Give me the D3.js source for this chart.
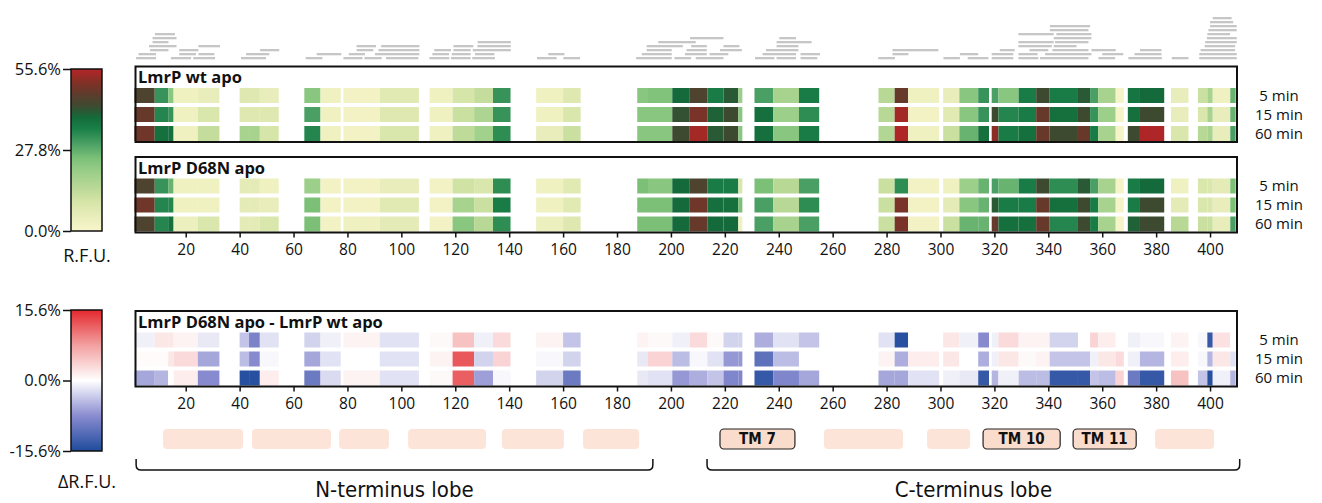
<!DOCTYPE html>
<html>
<head>
<meta charset="utf-8">
<script src="https://cdn.jsdelivr.net/npm/d3@7.9.0/dist/d3.min.js"></script>
<style>
  body { margin: 0; background: #fff; }
  text { font-family: "Open Sans", "Noto Sans", sans-serif; fill: #111; }
  .narrow { font-family: "Liberation Sans Narrow", "DejaVu Sans Condensed", "Open Sans", sans-serif; }
</style>
</head>
<body>
<svg id="chart" width="1322" height="503"></svg>
<script>
// ---- data ----
// residue segments (shared by all heatmap rows)
const segStart = [1, 8.5, 13.5, 15.5, 24.5, 40, 43.5, 47.5, 64, 70, 78.5, 92, 110.5, 119, 127, 134, 150, 160,
  187.5, 191.5, 200.5, 207, 213.5, 219.5, 225, 231, 238, 247.5, 277, 283, 288, 301, 307, 314,
  319, 321.5, 329, 335.5, 340.5, 351, 355.5, 358.5, 365, 369.5, 374, 385.5, 395.5, 399, 401, 407.5];
const segEnd = [8.5, 13.5, 15.5, 24.5, 32.5, 43.5, 47.5, 54.5, 70, 77.5, 92, 106.5, 119, 127, 134, 140.5, 160, 166.5,
  191.5, 200.5, 207, 213.5, 219.5, 225, 226.5, 238, 247.5, 255, 283, 288, 299.5, 307, 314, 318,
  321.5, 329, 335.5, 340.5, 351, 355.5, 358.5, 365, 368, 374, 383, 392, 399, 401, 407.5, 409.5];

// relative fractional uptake (%) - LmrP wt apo
const wt5 = [45, 32, 23, 3, 5, 8, 8, 5, 23, 3, 2, 7, 3, 10, 13, 32, 3, 8, 23, 24, 39, 45, 36, 41, 20, 30, 18, 36,
  15, 48, 3, 5, 23, 32, 30, 23, 36, 43, 36, 41, 30, 18, 1, 37, 39, 5, 12, 18, 3, 27];
const wt15 = [48, 34, 32, 3, 9, 8, 8, 8, 30, 3, 2, 8, 3, 12, 17, 32, 3, 9, 23, 23, 42, 50, 40, 43, 23, 38, 20, 33,
  15, 54, 2, 7, 23, 32, 43, 34, 36, 48, 38, 43, 32, 20, 1, 38, 43, 5, 9, 18, 5, 27];
const wt60 = [49, 38, 38, 3, 13, 18, 18, 10, 34, 3, 2, 9, 3, 14, 19, 33, 5, 12, 23, 23, 43, 54, 41, 43, 23, 38, 23, 36,
  16, 55, 3, 12, 27, 38, 52, 36, 38, 48, 43, 48, 36, 18, 1, 43, 55, 9, 15, 18, 5, 30];

// LmrP D68N apo
const mut5 = [45, 32, 27, 3, 3, 6, 6, 3, 20, 2, 2, 5, 2, 11, 9, 33, 3, 7, 25, 23, 39, 45, 36, 36, 9, 25, 15, 30,
  12, 33, 2, 3, 20, 27, 30, 27, 36, 43, 33, 41, 30, 18, 1, 36, 39, 3, 9, 9, 6, 25];
const mut15 = [49, 34, 34, 3, 3, 6, 6, 5, 25, 2, 2, 7, 2, 18, 12, 36, 3, 7, 25, 25, 39, 49, 38, 38, 25, 30, 15, 33,
  12, 50, 2, 6, 23, 27, 41, 36, 36, 48, 38, 43, 36, 18, 1, 36, 43, 6, 9, 9, 5, 25];
const mut60 = [45, 34, 38, 4, 9, 6, 6, 9, 25, 2, 3, 6, 2, 23, 15, 33, 4, 8, 25, 25, 39, 48, 39, 39, 3, 30, 18, 30,
  12, 50, 2, 12, 27, 27, 48, 38, 38, 48, 34, 43, 36, 18, 1, 40, 43, 15, 12, 12, 5, 30];

// difference D68N - wt (%)
const diff5 = [-1, 2, 2, 1, -1.5, -4, -9, -2, -3, -1, 1, -2, 0.5, 5, -1, 3, 1, -4, 1, 0.5, -1, 3, 0.5, -3, -3, -5.5, -2, -4,
  -2, -15, 0, 2, -1, -8, -1, 3, 1, 1, -3, 0, 3.5, 1.5, 0, -1, -0.5, 1, -0.5, -14, 2.5, 0];
const diff15 = [0.3, 0.3, 2, 3, -6, -4.5, -8, -0.5, -6, -2, 0, -2, 1, 12.5, -3, 3.5, -0.5, -3, -1.5, 3.5, -4.5, -0.5, -2, -7, -7, -11, -4.5, 0,
  1, -5.5, 1.5, 2, 0, -5.5, -1, 2, 0.5, 1, -4, -4, -1, 2, 3, -1, -5, 1.5, -0.5, -5, 2, -2];
const diff60 = [-6, -5, 0, 1.5, -8, -15, -15, 1.5, -10, -2.5, 1, -2, 0.5, 12, -6.5, -0.5, -3, -10, -1.5, -2, -7, -5.5, -4, -8.5, -8.5, -14, -8.5, -6,
  -6, -6, -2, -1, -1.5, -14, -5, -1, -4.5, -4.5, -14, -14, -4, -4.5, 3.5, -10, -14, 5, -4, -15, -1, -5];

// peptides (start, end residue) shown as coverage bars
const pepStart = [1.6, 14.5, 22.8, 40.5, 64.5, 78.5, 86.3, 94.3, 110.4, 118.4, 126.3, 150.3, 160.1, 187.1, 201.3, 209.2,
  231.2, 239.2, 248.1, 276.9, 301.1, 310.1, 319, 328.9, 336.9, 358.6, 369.7, 385.8, 396,
  2.5, 17.6, 24.7, 42.4, 68.6, 80.5, 90.2, 111.5, 118.7, 127.3, 154.5, 189.2, 205.2, 214.3, 234, 248.1, 282.2, 307.2,
  319, 328.9, 338.8, 360, 372,
  6.8, 17.6, 47.6, 83.4, 91.5, 112.2, 119.3, 126.5, 191, 205.8, 218.2, 235.3, 282.2, 322, 333, 341.5, 356, 374, 396,
  6.4, 24.7, 83.4, 92.5, 119.3, 128.2, 191, 207.5, 219.5, 239.2, 328.9, 342, 396.5,
  7.7, 128.3, 195.3, 239.2, 328.9, 342, 398,
  7.7, 207.1, 240.2, 328.9, 342.5, 398.2,
  8.6, 340.6, 398.8, 340.6, 399, 343, 399.4, 400, 400, 401];
const pepEnd = [9, 22, 30.9, 49.8, 70.7, 85.6, 92.7, 106.3, 117.8, 125.7, 134.7, 157.6, 166.3, 200.3, 207.5, 219.5,
  238.4, 246.4, 254.3, 283.1, 307.2, 317.8, 327, 336.3, 354.9, 364.8, 382.1, 392, 409.9,
  9, 23.8, 30.6, 51, 77.7, 86.5, 106.7, 117.7, 125.7, 134.5, 160.5, 200.3, 213.3, 221.3, 246.4, 255.3, 288.1, 314,
  327, 336, 356, 367.8, 382,
  13.6, 24.7, 54.7, 89.6, 106.7, 118.4, 125.7, 140.6, 200.3, 213.3, 226.3, 247.3, 299.2, 327.5, 340, 354.9, 365, 382, 409.9,
  16.6, 32.7, 90.6, 106.7, 126.7, 140.6, 204.4, 213.3, 225.4, 247.3, 341.3, 350.5, 409.3,
  13.6, 140.6, 209.2, 252.2, 342, 356, 409.3,
  16.6, 219.5, 246.4, 342, 354.9, 409.9,
  16, 354.9, 409.9, 355.5, 407.4, 356, 409.9, 409.9, 408.6, 408];

// colour-bar ticks
const rfuTicks = [0, 27.8, 55.6];
const diffTicks = [-15.6, 0, 15.6];
const residueTicks = d3.range(20, 401, 20);
const timeLabels = ['5 min', '15 min', '60 min'];
const panelTitles = ['LmrP wt apo', 'LmrP D68N apo', 'LmrP D68N apo - LmrP wt apo'];

// secondary structure boxes (TM helices)
const tmNames = ['', '', '', '', '', '', 'TM 7', '', '', 'TM 10', 'TM 11', ''];
const tmStart = [11.6, 44.6, 76.9, 102.5, 137.3, 167.4, 218.2, 256.8, 295, 315.8, 349.2, 379.6];
const tmEnd = [41.3, 73.9, 95.4, 131.4, 160.3, 188.2, 246, 286.1, 311, 344.4, 372.6, 401.5];
const lobeNames = ['N-terminus lobe', 'C-terminus lobe'];
const lobeStart = [1.6, 213.4];
const lobeEnd = [193.3, 411];

// ---- scales ----
const svg = d3.select('#chart');
const x = d3.scaleLinear().domain([1, 410]).range([134.5, 1237]);

const rfuColor = d3.scaleLinear()
  .domain([0, 5, 10, 15, 20, 25, 30, 35, 39, 43, 47, 51, 55.6])
  .range(['#f8f6cb', '#e9edbb', '#d6e5a8', '#b8d896', '#9ccf8a', '#7cc078', '#4aa064', '#1a8048',
    '#146a3a', '#3e4a30', '#5e3c2c', '#823026', '#b52528'])
  .clamp(true);

const diffColor = d3.scaleLinear()
  .domain([-15.6, -7.8, 0, 7.8, 15.6])
  .range(['#1f4b9c', '#8a8cd0', '#ffffff', '#f3a0a0', '#e3282d'])
  .clamp(true);

// ---- peptide coverage (stacked greedily) ----
let levels = [];
pepStart.forEach((s, i) => {
  let e = pepEnd[i];
  let lv = 0;
  while (levels[lv] && levels[lv].some(([a, b]) => s < b + 0.3 && e > a - 0.3)) lv++;
  if (!levels[lv]) levels[lv] = [];
  levels[lv].push([s, e]);
  svg.append('rect')
    .attr('x', x(s)).attr('width', x(e) - x(s))
    .attr('y', 57 - lv * 4).attr('height', 2.3)
    .attr('fill', '#c6c6c6');
});

// ---- heatmap panels ----
const panels = [
  { title: panelTitles[0], rows: [wt5, wt15, wt60], color: rfuColor, top: 66.5 },
  { title: panelTitles[1], rows: [mut5, mut15, mut60], color: rfuColor, top: 157 },
  { title: panelTitles[2], rows: [diff5, diff15, diff60], color: diffColor, top: 311 },
];

panels.forEach((p, pi) => {
  let g = svg.append('g');
  p.rows.forEach((vals, ri) => {
    let y0 = p.top + 21.5 + ri * 19;
    vals.forEach((v, si) => {
      g.append('rect')
        .attr('x', x(segStart[si]))
        .attr('width', x(segEnd[si]) - x(segStart[si]))
        .attr('y', y0).attr('height', 15)
        .attr('fill', p.color(v));
    });
    svg.append('text')
      .attr('x', 1279).attr('y', y0 + 7.5)
      .attr('dy', '0.35em')
      .attr('text-anchor', 'middle')
      .style('font-size', '15px')
      .text(timeLabels[ri]);
  });
  // frame
  g.append('rect')
    .attr('x', 135.5).attr('y', p.top)
    .attr('width', 1237 - 135.5).attr('height', 75.5)
    .attr('fill', 'none').attr('stroke', '#111').attr('stroke-width', 2);
  g.append('text')
    .attr('x', 138).attr('y', p.top + 16.5)
    .style('font-size', '16.5px').style('font-weight', 'bold')
    .text(p.title);
  // residue axis under the second and third panel
  if (pi > 0) {
    let ax = svg.append('g')
      .attr('transform', `translate(0,${p.top + 75.5})`)
      .call(d3.axisBottom(x).tickValues(residueTicks).tickSize(5).tickPadding(6));
    ax.select('.domain').remove();
    ax.selectAll('line').attr('stroke', '#111').attr('stroke-width', 1.5);
    ax.selectAll('text').style('font-size', '15.5px').style('font-family', '"Open Sans", sans-serif').attr('fill', '#111');
  }
});

// ---- colour bars ----
function colorBar(id, scale, ticks, y0, y1, label, labelGap) {
  let grad = svg.append('defs').append('linearGradient')
    .attr('id', id).attr('x1', 0).attr('x2', 0).attr('y1', 1).attr('y2', 0);
  let [lo, hi] = d3.extent(scale.domain());
  scale.domain().forEach((d, i) => {
    grad.append('stop')
      .attr('offset', (d - lo) / (hi - lo))
      .attr('stop-color', scale.range()[i]);
  });
  svg.append('rect')
    .attr('x', 71).attr('y', y0).attr('width', 31).attr('height', y1 - y0)
    .attr('fill', `url(#${id})`).attr('stroke', '#111').attr('stroke-width', 1.5);
  let ys = d3.scaleLinear().domain([lo, hi]).range([y1, y0]);
  let ax = svg.append('g')
    .attr('transform', 'translate(71,0)')
    .call(d3.axisLeft(ys).tickValues(ticks).tickSize(8).tickPadding(2).tickFormat((d) => d.toFixed(1) + '%'));
  ax.select('.domain').remove();
  ax.selectAll('line').attr('stroke', '#111').attr('stroke-width', 1.5);
  ax.selectAll('text').style('font-size', '16.5px').style('font-family', '"Open Sans", sans-serif').attr('fill', '#111');
  svg.append('text')
    .attr('x', 87).attr('y', y1 + labelGap)
    .attr('text-anchor', 'middle')
    .style('font-size', '18px')
    .text(label);
}
colorBar('gradRfu', rfuColor, rfuTicks, 69, 231, 'R.F.U.', 31);
colorBar('gradDiff', diffColor, diffTicks, 310, 451, '\u0394R.F.U.', 37);

// ---- TM boxes ----
tmStart.forEach((s, i) => {
  let labelled = tmNames[i] !== '';
  svg.append('rect')
    .attr('x', x(s)).attr('width', x(tmEnd[i]) - x(s))
    .attr('y', 429).attr('height', 20).attr('rx', 4)
    .attr('fill', labelled ? '#fadccd' : '#fde4d9')
    .attr('stroke', labelled ? '#222' : 'none')
    .attr('stroke-width', 1.2);
  if (labelled) {
    svg.append('text')
      .attr('class', 'narrow')
      .attr('x', (x(s) + x(tmEnd[i])) / 2).attr('y', 439)
      .attr('dy', '0.35em').attr('text-anchor', 'middle')
      .style('font-size', '15px').style('font-weight', 'bold')
      .text(tmNames[i]);
  }
});

// ---- lobe brackets ----
lobeStart.forEach((s, i) => {
  let a = x(s), b = x(lobeEnd[i]);
  let p = d3.path();
  p.moveTo(a, 459);
  p.lineTo(a, 465);
  p.quadraticCurveTo(a, 470, a + 5, 470);
  p.lineTo(b - 5, 470);
  p.quadraticCurveTo(b, 470, b, 465);
  p.lineTo(b, 459);
  svg.append('path').attr('d', p.toString())
    .attr('fill', 'none').attr('stroke', '#111').attr('stroke-width', 1.5);
  svg.append('text')
    .attr('class', 'narrow')
    .attr('x', (a + b) / 2).attr('y', 497)
    .attr('text-anchor', 'middle')
    .style('font-size', '22px')
    .text(lobeNames[i]);
});
</script>
</body>
</html>
